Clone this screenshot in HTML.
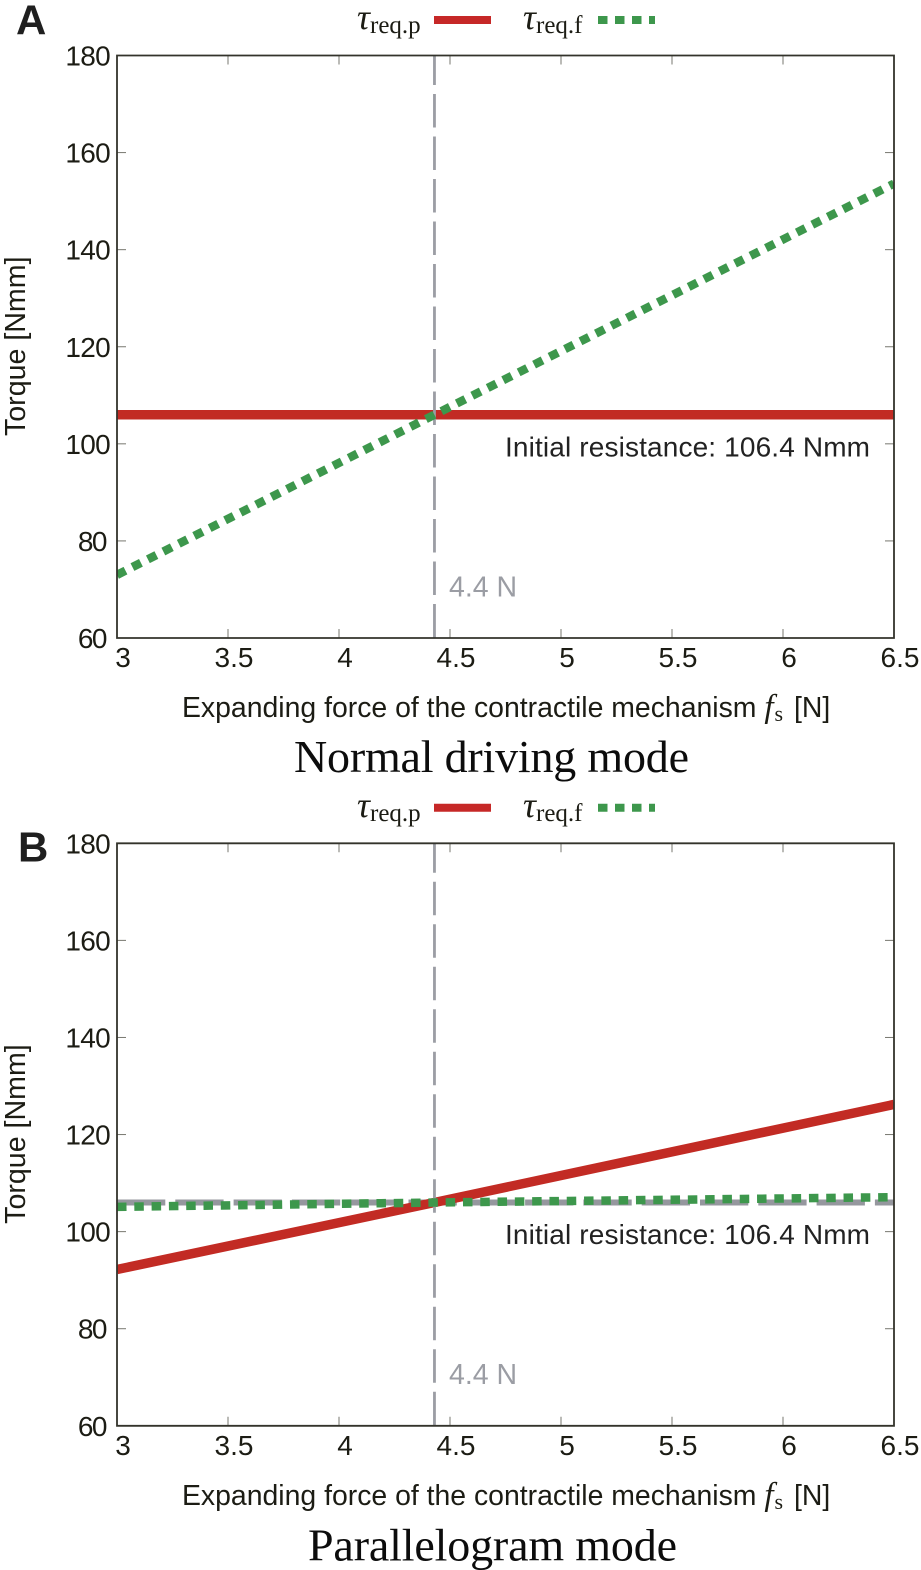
<!DOCTYPE html>
<html lang="en">
<head>
<meta charset="utf-8">
<title>Torque vs expanding force</title>
<style>
html,body{margin:0;padding:0;background:#fff;}
svg{display:block;}
.sans{font-family:"Liberation Sans",sans-serif;}
.serif{font-family:"Liberation Serif",serif;}
</style>
</head>
<body>
<svg id="figure" xmlns="http://www.w3.org/2000/svg" width="921" height="1570" viewBox="0 0 921 1570"></svg>
<script>
const xTicks = [3, 3.5, 4, 4.5, 5, 5.5, 6, 6.5];
const yTicks = [60, 80, 100, 120, 140, 160, 180];
const forceValues = [3, 4.43, 6.5];
const normalReqP = [106, 106, 106];
const normalReqF = [73, 106, 153.6];
const parallelReqP = [92.2, 106, 126.2];
const parallelReqF = [105.1, 106, 107.1];
const initialResistance = [106, 106, 106];
const thresholdForce = 4.43;

const NS = 'http://www.w3.org/2000/svg';
const svg = document.getElementById('figure');
const INK = '#1c1c14';

function add(parent, tag, attrs, text) {
  const el = document.createElementNS(NS, tag);
  for (const k in attrs) el.setAttribute(k, attrs[k]);
  if (text !== undefined) el.textContent = text;
  parent.appendChild(el);
  return el;
}

function drawLegend(g, top) {
  const y = top - 35.5;
  const p = add(g, 'text', {x: 357, y: y + 9, 'font-size': 36, fill: INK, class: 'serif'});
  
  
  add(p, 'tspan', {'font-style': 'italic'}, 'τ');
  add(p, 'tspan', {x: 370, y: y + 13, 'font-size': 25}, 'req.p');

  const pl = add(g, 'line', {x1: 434, x2: 491, y1: y, y2: y, stroke: '#c62827', 'stroke-width': 8});
  
  

  const f = add(g, 'text', {x: 523, y: y + 9, 'font-size': 36, fill: INK, class: 'serif'});
  
  
  add(f, 'tspan', {'font-style': 'italic'}, 'τ');
  add(f, 'tspan', {x: 536, y: y + 13, 'font-size': 25}, 'req.f');

  const fl = add(g, 'line', {x1: 598, x2: 655, y1: y, y2: y, stroke: '#3d974c', 'stroke-width': 8, 'stroke-dasharray': '9.5 7.5'});
  
  
}

function drawPanel(cfg) {
  const top = cfg.top, bottom = top + 582.5, left = 117, right = 894;
  const sx = v => left + (v - xTicks[0]) * (right - left) / (xTicks[xTicks.length - 1] - xTicks[0]);
  const sy = v => bottom - (v - yTicks[0]) * (bottom - top) / (yTicks[yTicks.length - 1] - yTicks[0]);
  const pts = (xs, ys) => xs.map((x, i) => sx(x).toFixed(2) + ',' + sy(ys[i]).toFixed(2)).join(' ');

  const g = add(svg, 'g', {});
  
  

  const clip = add(g, 'clipPath', {id: cfg.name + '-clip'});
  add(clip, 'rect', {x: left, y: top, width: right - left, height: bottom - top});

  const letter = add(g, 'text', {x: cfg.letterX, y: top + cfg.letterDy, 'font-size': 42, 'font-weight': 'bold', fill: '#1f1f1f', class: 'sans'}, cfg.letter);
  
  

  drawLegend(g, top);

  xTicks.forEach(v => {
    const x = sx(v);
    if (v !== xTicks[0] && v !== xTicks[xTicks.length - 1]) {
      const t1 = add(g, 'line', {x1: x, x2: x, y1: bottom, y2: bottom - 9, stroke: '#77776f', 'stroke-width': 1});
      
      
      const t2 = add(g, 'line', {x1: x, x2: x, y1: top, y2: top + 9, stroke: '#77776f', 'stroke-width': 1});
      
      
    }
    const lab = add(g, 'text', {x: x + 6, y: bottom + 29, 'font-size': 28, 'text-anchor': 'middle', fill: INK, class: 'sans'}, String(v));
    
    
  });

  yTicks.forEach(v => {
    const y = sy(v);
    if (v !== yTicks[0] && v !== yTicks[yTicks.length - 1]) {
      const t1 = add(g, 'line', {x1: left, x2: left + 9, y1: y, y2: y, stroke: '#77776f', 'stroke-width': 1});
      
      
      const t2 = add(g, 'line', {x1: right, x2: right - 9, y1: y, y2: y, stroke: '#77776f', 'stroke-width': 1});
      
      
    }
    const s = String(v);
    const lab = add(g, 'text', {x: s.length < 3 ? 106 : 110, y: y + 10, 'font-size': 28, 'text-anchor': 'end', 'letter-spacing': s.length < 3 ? -1.5 : -0.7, fill: INK, class: 'sans'}, s);
    
    
  });

  const plot = add(g, 'g', {'clip-path': 'url(#' + cfg.name + '-clip)'});
  
  

  if (cfg.gray) {
    const base = add(plot, 'polyline', {points: pts(forceValues, cfg.gray), fill: 'none', stroke: '#95979e', 'stroke-width': 6, 'stroke-dasharray': '48.3 10'});
    
    
  }

  const red = add(plot, 'polyline', {points: pts(forceValues, cfg.reqP), fill: 'none', stroke: '#c22b24', 'stroke-width': 9.5});
  
  

  const vline = add(plot, 'line', {x1: sx(thresholdForce), x2: sx(thresholdForce), y1: top, y2: bottom, stroke: '#9b9da4', 'stroke-width': 2.8, 'stroke-dasharray': '33.5 9', 'stroke-dashoffset': 4});
  
  

  const green = add(plot, 'polyline', {points: pts(forceValues, cfg.reqF), fill: 'none', stroke: '#3d974c', 'stroke-width': 8.5, 'stroke-dasharray': '9.5 7.8'});
  
  

  const frame = add(g, 'path', {d: `M${left} ${top}H${right}V${bottom}H${left}Z`, fill: 'none', stroke: '#33332b', 'stroke-width': 1.8});
  
  

  const ann = add(g, 'text', {x: 505, y: top + 400.8, 'font-size': 28, textLength: 365, fill: '#222', class: 'sans'}, 'Initial resistance: 106.4 Nmm');
  
  

  const th = add(g, 'text', {x: 449, y: top + 540.8, 'font-size': 28.5, fill: '#9b9da4', class: 'sans'}, '4.4 N');
  
  

  const yMid = (top + bottom) / 2 - 0.5;
  const yt = add(g, 'text', {x: 0, y: 0, transform: `translate(25 ${yMid}) rotate(-90)`, 'font-size': 28.6, 'text-anchor': 'middle', fill: INK, class: 'sans'}, 'Torque [Nmm]');
  
  

  const xt = add(g, 'text', {x: 182, y: bottom + 79.2, 'font-size': 28.4, fill: INK, class: 'sans'});
  
  
  add(xt, 'tspan', {}, 'Expanding force of the contractile mechanism ');
  add(xt, 'tspan', {'font-family': '"Liberation Serif",serif', 'font-style': 'italic', 'font-size': 33}, 'f');
  add(xt, 'tspan', {'font-family': '"Liberation Serif",serif', 'font-size': 22, dy: 4, dx: 1}, 's');
  add(xt, 'tspan', {dy: -4, dx: 3}, ' [N]');

  const title = add(g, 'text', {x: cfg.titleX, y: bottom + cfg.titleDy, 'font-size': 46, textLength: cfg.titleLen, fill: '#0c0c0c', class: 'serif'}, cfg.title);
  
  
}

drawPanel({name: 'panel-normal-driving', letter: 'A', letterX: 16, letterDy: -21, top: 55.5,
  reqP: normalReqP, reqF: normalReqF, gray: null,
  title: 'Normal driving mode', titleX: 294, titleLen: 395, titleDy: 134});
drawPanel({name: 'panel-parallelogram', letter: 'B', letterX: 18, letterDy: 18, top: 843.3,
  reqP: parallelReqP, reqF: parallelReqF, gray: initialResistance,
  title: 'Parallelogram mode', titleX: 308, titleLen: 369, titleDy: 134.5});
</script>
</body>
</html>
